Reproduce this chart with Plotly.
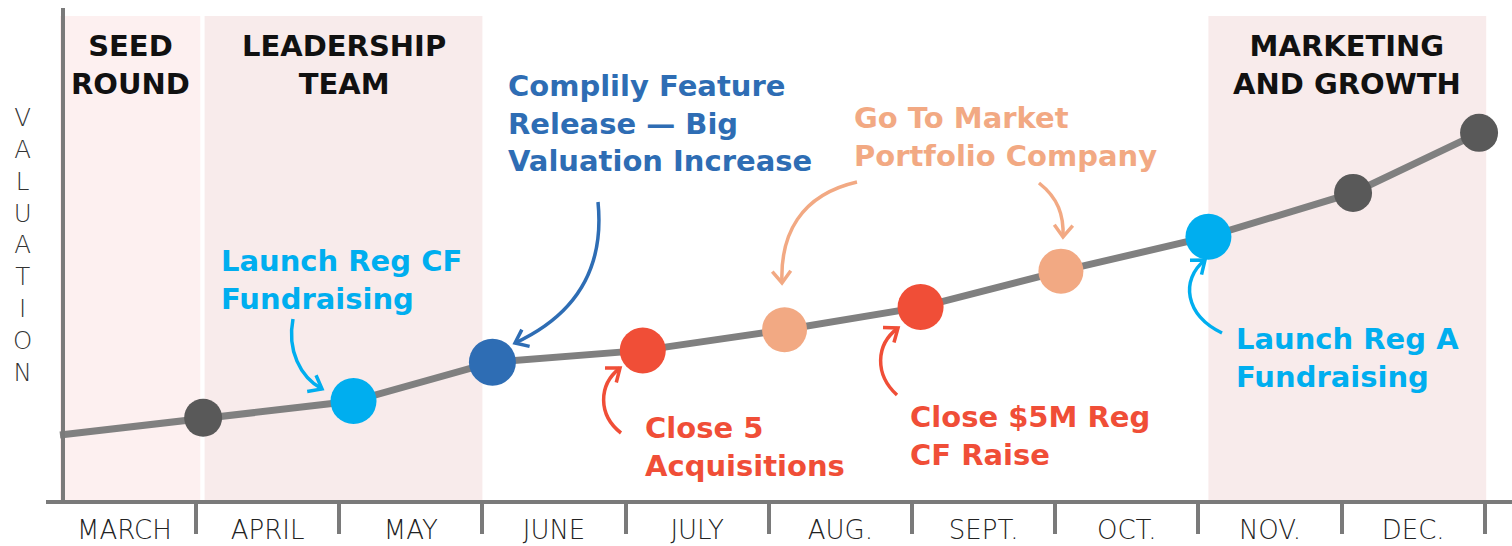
import math
import plotly.graph_objects as go

# ---------------- data ----------------
months = ["MARCH", "APRIL", "MAY", "JUNE", "JULY", "AUG.", "SEPT.", "OCT.", "NOV.", "DEC."]
# position along the timeline in months (0 = start of March), valuation in relative units
point_x = [0.05, 1.05, 2.10, 3.07, 4.12, 5.11, 6.06, 7.04, 8.07, 9.08, 9.96]
valuation = [13.2, 16.7, 20.1, 28.0, 30.4, 34.6, 39.2, 46.5, 53.5, 62.4, 74.6]
milestone = ["", "", "Launch Reg CF Fundraising", "Complily Feature Release",
             "Close 5 Acquisitions", "Go To Market Portfolio Company",
             "Close $5M Reg CF Raise", "Go To Market Portfolio Company",
             "Launch Reg A Fundraising", "", ""]
marker_color = ["#595959", "#595959", "#00AEEF", "#2E6DB4", "#F04E37", "#F2A983",
                "#F04E37", "#F2A983", "#00AEEF", "#595959", "#595959"]
marker_size = [0, 38, 46, 47, 46, 45, 46, 45, 46, 38, 38]

phase_names = ["SEED<br>ROUND", "LEADERSHIP<br>TEAM", "MARKETING<br>AND GROWTH"]
phase_start = [0.05, 1.06, 8.07]
phase_end = [1.03, 3.00, 10.01]
phase_fill = ["#FDF0F0", "#F8EBEB", "#F8EBEB"]

# ---------------- geometry ----------------
W, H = 1512, 546
ML, MB = 46, 46
PW, PH = W - ML, H - MB
X0, X1 = -0.0475, 10.19
Y0, Y1 = 0.0, 101.6


def dx(p):  # pixel -> x data
    return X0 + (p - ML) / PW * (X1 - X0)


def dy(p):  # pixel -> y data
    return Y0 + (PH - p) / PH * (Y1 - Y0)


AX = "#7A7A7A"
BOLD = "DejaVu Sans"
LIGHT = "DejaVu Sans"

fig = go.Figure()

fig.add_trace(go.Scatter(x=point_x, y=valuation, mode="lines",
                         line=dict(color="#808080", width=7), hoverinfo="skip",
                         showlegend=False))
fig.add_trace(go.Scatter(x=point_x[1:], y=valuation[1:], mode="markers",
                         marker=dict(color=marker_color[1:], size=marker_size[1:],
                                     opacity=1, line=dict(width=0)),
                         text=milestone[1:], showlegend=False))

shapes = []
for s, e, c in zip(phase_start, phase_end, phase_fill):
    shapes.append(dict(type="rect", xref="x", yref="y", x0=s, x1=e, y0=0, y1=dy(16),
                       fillcolor=c, line=dict(width=0), layer="below"))
# vertical axis line
shapes.append(dict(type="line", xref="x", yref="y", x0=dx(63), x1=dx(63), y0=0, y1=dy(8),
                   line=dict(color=AX, width=4)))

# curved arrows (pixel geometry: start, ctrl1, ctrl2, tip)
arrows = [
    ("#00AEEF", (293, 319), (287, 350), (300, 377), (322, 389)),
    ("#2E6DB4", (598, 202), (604, 262), (582, 312), (515, 343)),
    ("#F2A983", (857, 182), (800, 195), (780, 235), (782, 283)),
    ("#F2A983", (1039, 183), (1058, 198), (1064, 215), (1063, 237)),
    ("#F04E37", (621, 433), (598, 415), (598, 385), (620, 368)),
    ("#F04E37", (897, 395), (875, 375), (875, 345), (898, 328)),
    ("#00AEEF", (1222, 333), (1185, 315), (1180, 280), (1205, 260)),
]


def pt(p):
    return f"{dx(p[0]):.5f},{dy(p[1]):.5f}"


for col, a, b, c, d in arrows:
    shapes.append(dict(type="path", xref="x", yref="y",
                       path=f"M {pt(a)} C {pt(b)} {pt(c)} {pt(d)}",
                       line=dict(color=col, width=3.5)))
    vx, vy = d[0] - c[0], d[1] - c[1]
    n = math.hypot(vx, vy)
    vx, vy = vx / n, vy / n
    L = 15
    wings = []
    for ang in (math.radians(38), -math.radians(38)):
        rx = vx * math.cos(ang) - vy * math.sin(ang)
        ry = vx * math.sin(ang) + vy * math.cos(ang)
        wings.append((d[0] - L * rx, d[1] - L * ry))
    shapes.append(dict(type="path", xref="x", yref="y",
                       path=f"M {pt(wings[0])} L {pt(d)} L {pt(wings[1])}",
                       line=dict(color=col, width=3.5)))

annotations = []
for name, s, e in zip(phase_names, phase_start, phase_end):
    annotations.append(dict(x=(s + e) / 2, y=dy(65), xref="x", yref="y", text=name,
                            showarrow=False, xanchor="center", yanchor="middle",
                            font=dict(family=BOLD, size=29, color="#111111", weight="bold")))

labels = [
    ("Launch Reg CF<br>Fundraising", "#00AEEF", 219, 280),
    ("Complily Feature<br>Release — Big<br>Valuation Increase", "#2E6DB4", 506, 123),
    ("Go To Market<br>Portfolio Company", "#F2A983", 852, 137),
    ("Close 5<br>Acquisitions", "#F04E37", 643, 447),
    ("Close $5M Reg<br>CF Raise", "#F04E37", 908, 436),
    ("Launch Reg A<br>Fundraising", "#00AEEF", 1234, 358),
]
for txt, col, px, py in labels:
    annotations.append(dict(x=dx(px), y=dy(py), xref="x", yref="y", text=txt,
                            showarrow=False, xanchor="left", yanchor="middle", align="left",
                            font=dict(family=BOLD, size=29, color=col, weight="bold")))

annotations.append(dict(x=(23 - ML) / PW, y=(PH - 245) / PH, xref="paper", yref="paper",
                        text="<br>".join(list("VALUATION")), showarrow=False,
                        xanchor="center", yanchor="middle", align="center",
                        font=dict(family=LIGHT, size=24.5, color="#333333", weight=200)))

fig.update_layout(
    width=W, height=H,
    margin=dict(l=ML, r=0, t=0, b=MB, pad=0, autoexpand=False),
    paper_bgcolor="white", plot_bgcolor="white",
    xaxis=dict(range=[X0, X1], showgrid=False, zeroline=False, automargin=False,
               showline=True, linecolor=AX, linewidth=4,
               tickmode="array", tickvals=[i + 0.5 for i in range(len(months))],
               ticktext=months, ticks="", ticklabelstandoff=4,
               tickfont=dict(family=LIGHT, size=26, color="#222222", weight=200),
               minor=dict(tickmode="array", tickvals=list(range(1, len(months) + 1)),
                          ticks="outside", ticklen=30, tickwidth=4, tickcolor=AX)),
    yaxis=dict(range=[Y0, Y1], showgrid=False, zeroline=False, showline=False,
               showticklabels=False, automargin=False),
    shapes=shapes,
    annotations=annotations,
    showlegend=False,
)

fig.write_html("out.html", config={"displayModeBar": False},
               post_script="document.body.style.margin='0';document.body.style.overflow='hidden';")
